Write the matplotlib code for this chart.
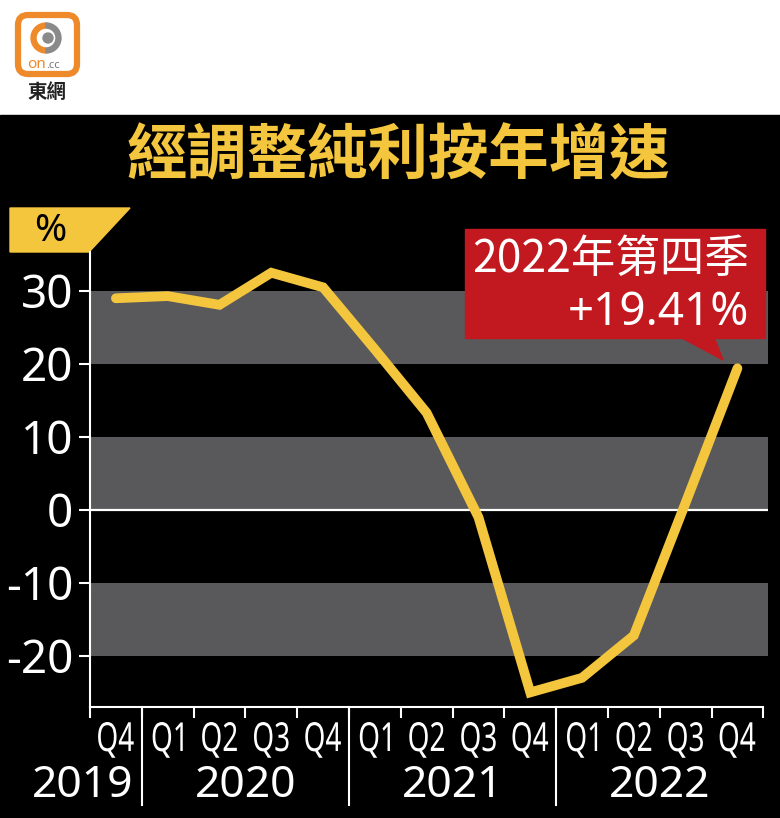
import matplotlib
matplotlib.use('Agg')
import matplotlib.pyplot as plt
import matplotlib.transforms as mtransforms
from matplotlib.patches import Rectangle, Polygon, FancyBboxPatch, Circle, Wedge, PathPatch
from matplotlib.textpath import TextPath
from matplotlib.font_manager import FontProperties

# data
quarters = ['Q4', 'Q1', 'Q2', 'Q3', 'Q4', 'Q1', 'Q2', 'Q3', 'Q4', 'Q1', 'Q2', 'Q3', 'Q4']
years = ['2019', '2020', '2021', '2022']
year_sizes = [1, 4, 4, 4]
growth = [29.0, 29.3, 28.1, 32.5, 30.5, 22.0, 13.3, -1.0, -25.0, -23.0, -17.2, 1.0, 19.41]
yticks = [-20, -10, 0, 10, 20, 30]
ytick_labels = ['-20', '-10', '0', '10', '20', '30']
bands = [(20, 30), (0, 10), (-20, -10)]
title = '經調整純利按年增速'
note_top = '2022年第四季'
note_bottom = '+19.41%'

YELLOW = '#f4c63d'
GREY = '#59595b'
RED = '#c1191f'
ORANGE = '#ef8a2b'
CJK = ['Noto Sans CJK TC', 'DejaVu Sans']
NUM = ['Noto Sans', 'DejaVu Sans']

W, H = 780, 818
fig = plt.figure(figsize=(W / 100, H / 100), dpi=100, facecolor='white')

# background / decoration layer in pixel coordinates
bg = fig.add_axes([0, 0, 1, 1], zorder=0)
bg.set_xlim(0, W)
bg.set_ylim(H, 0)
bg.axis('off')
bg.add_patch(Rectangle((0, 115), W, H - 115, color='black'))

# logo
bg.add_patch(FancyBboxPatch((18, 15), 59, 59, boxstyle='round,pad=0,rounding_size=10',
                            fc='white', ec=ORANGE, lw=4.5))
bg.add_patch(Wedge((46, 38), 15, 90, 270, width=5, color=ORANGE))
bg.add_patch(Wedge((46, 38), 15, 270, 90, width=5, color='#8a8a8a'))
bg.add_patch(Circle((48, 38), 5, color='#8a8a8a'))
bg.text(46, 65, 'on', color=ORANGE, fontsize=11, fontweight='bold', ha='right', va='center',
        family=NUM)
bg.text(46, 66, '.cc', color='#777777', fontsize=8, fontweight='bold', ha='left', va='center',
        family=NUM)
bg.text(47, 93, '東網', color='#222222', fontsize=14, fontweight='bold', ha='center',
        va='center', family=CJK)

# title
bg.text(398, 156, title, color=YELLOW, fontsize=43.5, fontweight='bold', ha='center',
        va='center', family=CJK)

# % tab
bg.add_patch(Polygon([(10, 208), (130, 208), (89, 252), (10, 252)], closed=True, color=YELLOW))
bg.text(50, 231, '%', color='black', fontsize=28, ha='center', va='center', family=NUM)

# main chart
ax = fig.add_axes([90 / W, 1 - 707 / H, (768 - 90) / W, (707 - 252) / H], zorder=1)
ax.set_facecolor('black')
n = len(growth)
xs = [i + 0.5 for i in range(n)]
ax.set_xlim(0, 13.09)
ax.set_ylim(-27, 35.34)

for lo, hi in bands:
    ax.axhspan(lo, hi, color=GREY, lw=0, zorder=0)
ax.axhline(0, color='white', lw=1.6, zorder=1)

ax.plot(xs, growth, color=YELLOW, lw=7, solid_joinstyle='miter', solid_capstyle='round',
        zorder=3)

for s in ['top', 'right']:
    ax.spines[s].set_visible(False)
ax.spines['left'].set_color('white')
ax.spines['left'].set_linewidth(1.5)
ax.spines['bottom'].set_color('white')
ax.spines['bottom'].set_linewidth(1.5)
ax.spines['bottom'].set_bounds(0, n)

ax.set_yticks(yticks)
ax.set_yticklabels(ytick_labels, family=NUM)
ax.tick_params(axis='y', colors='white', length=8, width=1.5, pad=4, labelsize=33)

ax.set_xticks([])
ax.set_xticks(range(n + 1), minor=True)
ax.tick_params(axis='x', which='minor', length=8, width=1.5, color='white')

trans = mtransforms.blended_transform_factory(ax.transData, ax.transAxes)
start = 0
for yr, size in zip(years, year_sizes):
    end = start + size
    if start > 0:
        ax.plot([start, start], [0, -0.215], transform=trans, color='white', lw=1.5,
                clip_on=False)
    if size == 1:
        ax.text(end - 0.17, -0.174, yr, transform=trans, color='white', fontsize=32,
                ha='right', va='center', family=NUM)
    else:
        ax.text((start + end) / 2, -0.174, yr, transform=trans, color='white', fontsize=32,
                ha='center', va='center', family=NUM)
    start = end

# top layer: condensed quarter labels and callout
top = fig.add_axes([0, 0, 1, 1], zorder=2)
top.set_xlim(0, W)
top.set_ylim(H, 0)
top.axis('off')

fp = FontProperties(family='Noto Sans')
for x, q in zip(xs, quarters):
    px = ax.transData.transform((x, 0))[0]
    tp = TextPath((0, 0), q, size=40, prop=fp)
    bb = tp.get_extents()
    tf = (mtransforms.Affine2D().translate(-(bb.x0 + bb.width / 2), 0)
          .scale(0.7, -1).translate(px, 751))
    top.add_patch(PathPatch(tf.transform_path(tp), fc='white', lw=0))

top.add_patch(Rectangle((465, 229), 300, 109, color=RED))
top.add_patch(Polygon([(680, 337), (714, 337), (723, 360)], closed=True, color=RED))
top.text(749, 259, note_top, color='white', fontsize=32, ha='right', va='center', family=CJK)
top.text(749, 313, note_bottom, color='white', fontsize=33, ha='right', va='center', family=NUM)

fig.savefig('out.png', dpi=100, facecolor='white')
